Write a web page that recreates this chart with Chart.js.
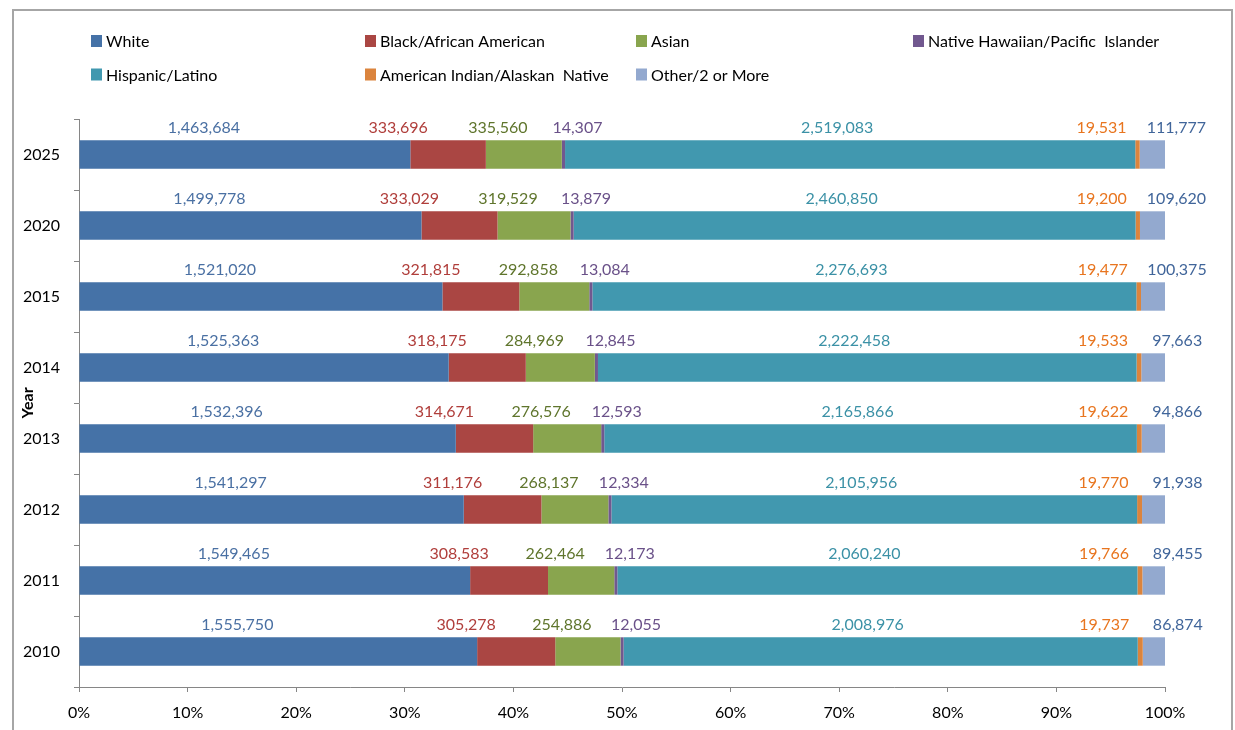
<!DOCTYPE html>
<html>
<head>
<meta charset="utf-8">
<script src="https://cdn.jsdelivr.net/npm/chart.js@4"></script>
<style>
html,body{margin:0;padding:0;background:#fff;}
#wrap{position:relative;width:1235px;height:730px;}
</style>
</head>
<body>
<div id="wrap"><canvas id="c" width="1235" height="730"></canvas></div>
<script>
const years = ['2025','2020','2015','2014','2013','2012','2011','2010'];
const seriesNames = ['White','Black/African American','Asian','Native Hawaiian/Pacific  Islander','Hispanic/Latino','American Indian/Alaskan  Native','Other/2 or More'];
const white    = [1463684,1499778,1521020,1525363,1532396,1541297,1549465,1555750];
const black    = [333696,333029,321815,318175,314671,311176,308583,305278];
const asian    = [335560,319529,292858,284969,276576,268137,262464,254886];
const nhpi     = [14307,13879,13084,12845,12593,12334,12173,12055];
const hispanic = [2519083,2460850,2276693,2222458,2165866,2105956,2060240,2008976];
const aian     = [19531,19200,19477,19533,19622,19770,19766,19737];
const other    = [111777,109620,100375,97663,94866,91938,89455,86874];
const xTicks   = [0,10,20,30,40,50,60,70,80,90,100];

const barColors   = ['#4572A7','#AA4643','#89A54E','#71588F','#4198AF','#DB843D','#93A9CF'];
const labelColors = ['#4A70A3','#B03E3B','#5F752C','#6A5189','#3B91A6','#E8751F','#40659A'];
const labelOffsets = [-41,-50,-26,14,-13,-36,24];

const raw = [white,black,asian,nhpi,hispanic,aian,other];
const totals = years.map((_,i)=>raw.reduce((s,a)=>s+a[i],0));

const FONT = 'Lato, "Liberation Sans", sans-serif';

const datasets = raw.map((arr,k)=>({
  label: seriesNames[k],
  data: arr.map((v,i)=>v/totals[i]*100),
  rawValues: arr,
  backgroundColor: barColors[k],
  borderWidth: 0,
  categoryPercentage: 1,
  barPercentage: 0.40
}));

const framePlugin = {
  id:'frame',
  beforeDraw(chart){
    const ctx = chart.ctx;
    ctx.save();
    ctx.fillStyle='#fff';
    ctx.fillRect(0,0,chart.width,chart.height);
    ctx.strokeStyle='#a6a6a6';
    ctx.lineWidth=2;
    ctx.strokeRect(13,10,1219,760);
    ctx.restore();
  }
};

const legendPlugin = {
  id:'gridLegend',
  afterDraw(chart){
    const ctx = chart.ctx;
    const cols=[91,365,636,913];
    const rows=[41,74.5];
    ctx.save();
    ctx.font = '16px '+FONT;
    ctx.textBaseline='middle';
    ctx.textAlign='left';
    chart.data.datasets.forEach((ds,i)=>{
      const x = cols[i%4], y = rows[Math.floor(i/4)];
      ctx.fillStyle = ds.backgroundColor;
      ctx.fillRect(x, y-6, 11, 12);
      ctx.fillStyle = '#000';
      ctx.fillText(ds.label, x+15, y+1);
    });
    ctx.restore();
  }
};

const valueLabelPlugin = {
  id:'valueLabels',
  afterDatasetsDraw(chart){
    const ctx = chart.ctx;
    ctx.save();
    ctx.font = '16px '+FONT;
    ctx.textAlign='center';
    ctx.textBaseline='middle';
    chart.data.datasets.forEach((ds,k)=>{
      const meta = chart.getDatasetMeta(k);
      meta.data.forEach((el,i)=>{
        const p = el.getProps(['x','y','base','height'],true);
        const cx = (p.x+p.base)/2 + labelOffsets[k];
        const cy = p.y - p.height/2 - 12;
        ctx.fillStyle = labelColors[k];
        ctx.fillText(ds.rawValues[i].toLocaleString('en-US'), cx, cy);
      });
    });
    ctx.restore();
  }
};

new Chart(document.getElementById('c'),{
  type:'bar',
  data:{labels:years, datasets},
  plugins:[framePlugin, valueLabelPlugin, legendPlugin],
  options:{
    indexAxis:'y',
    responsive:false,
    animation:false,
    devicePixelRatio:1,
    layout:{padding:{top:119,right:70,bottom:0,left:0}},
    plugins:{legend:{display:false},tooltip:{enabled:false},title:{display:false}},
    scales:{
      x:{
        stacked:true,
        min:0,max:100,
        afterBuildTicks(scale){ scale.ticks = xTicks.map(v=>({value:v})); },
        afterFit(scale){ scale.height = 43; },
        ticks:{callback:v=>v+'%', color:'#000', font:{family:FONT,size:16}, padding:11, maxRotation:0, autoSkip:false},
        grid:{drawOnChartArea:false, drawTicks:true, tickLength:5, color:'#868686'},
        border:{color:'#868686', width:1}
      },
      y:{
        stacked:true,
        afterFit(scale){ scale.width = 79; },
        ticks:{color:'#000', font:{family:FONT,size:16}, padding:14},
        grid:{drawOnChartArea:false, drawTicks:true, tickLength:5, color:'#868686', offset:true},
        border:{color:'#868686', width:1},
        title:{display:true, text:'Year', color:'#000', font:{family:FONT,size:16,weight:'bold'}, padding:{top:18.4,bottom:0}}
      }
    }
  }
});
</script>
</body>
</html>
